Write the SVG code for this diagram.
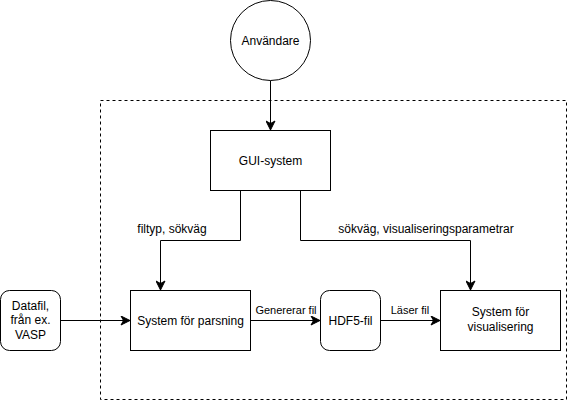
<svg xmlns="http://www.w3.org/2000/svg" width="571" height="401" viewBox="0 0 571 401">
<style>
.n{fill:#fff;stroke:#000;stroke-width:1}
.t{font-family:"Liberation Sans",Arial,sans-serif;font-size:12px;fill:#000;text-anchor:middle;dominant-baseline:central}
.s{font-size:11px}
.c{fill:none;stroke:#000;stroke-width:1}
</style>
<defs>
<marker id="a" markerUnits="userSpaceOnUse" markerWidth="12" markerHeight="10" viewBox="-10 -5 12 10" refX="0" refY="0" orient="auto">
<path d="M0,0 L-9,-4.5 L-6.5,0 L-9,4.5 Z" fill="#000" stroke="#000" stroke-width="1"/>
</marker>
</defs>
<rect x="100.5" y="100.5" width="466" height="299" fill="none" stroke="#000" stroke-dasharray="3,3"/>
<g id="connectors">
<path class="c" d="M270.5,80.5 V130" marker-end="url(#a)"/>
<path class="c" d="M240.5,190 V240.5 H160.5 V290" marker-end="url(#a)"/>
<path class="c" d="M300.5,190 V240.5 H470.5 V290" marker-end="url(#a)"/>
<path class="c" d="M60.5,320.5 H130" marker-end="url(#a)"/>
<path class="c" d="M250.5,320.5 H320" marker-end="url(#a)"/>
<path class="c" d="M380.5,320.5 H440" marker-end="url(#a)"/>
<text class="t" x="172" y="229">filtyp, sökväg</text>
<text class="t" x="426" y="229">sökväg, visualiseringsparametrar</text>
<text class="t s" x="286" y="310">Genererar fil</text>
<text class="t s" x="410" y="310">Läser fil</text>
</g>
<g id="anvandare">
<circle class="n" cx="270.5" cy="40.5" r="40"/>
<text class="t" x="270.5" y="40.5">Användare</text>
</g>
<g id="gui">
<rect class="n" x="210.5" y="130.5" width="120" height="60"/>
<text class="t" x="270.5" y="160.5">GUI-system</text>
</g>
<g id="datafil">
<rect class="n" x="0.5" y="290.5" width="60" height="60" rx="9" ry="9"/>
<text class="t" x="30.5" y="305.5">Datafil,</text>
<text class="t" x="30.5" y="320">från ex.</text>
<text class="t" x="30.5" y="334.5">VASP</text>
</g>
<g id="parsning">
<rect class="n" x="130.5" y="290.5" width="120" height="60"/>
<text class="t" x="190.5" y="320.5">System för parsning</text>
</g>
<g id="hdf5">
<rect class="n" x="320.5" y="290.5" width="60" height="60" rx="9" ry="9"/>
<text class="t" x="350.5" y="320.5">HDF5-fil</text>
</g>
<g id="visualisering">
<rect class="n" x="440.5" y="290.5" width="120" height="60"/>
<text class="t" x="500.5" y="312">System för</text>
<text class="t" x="500.5" y="327">visualisering</text>
</g>
</svg>
